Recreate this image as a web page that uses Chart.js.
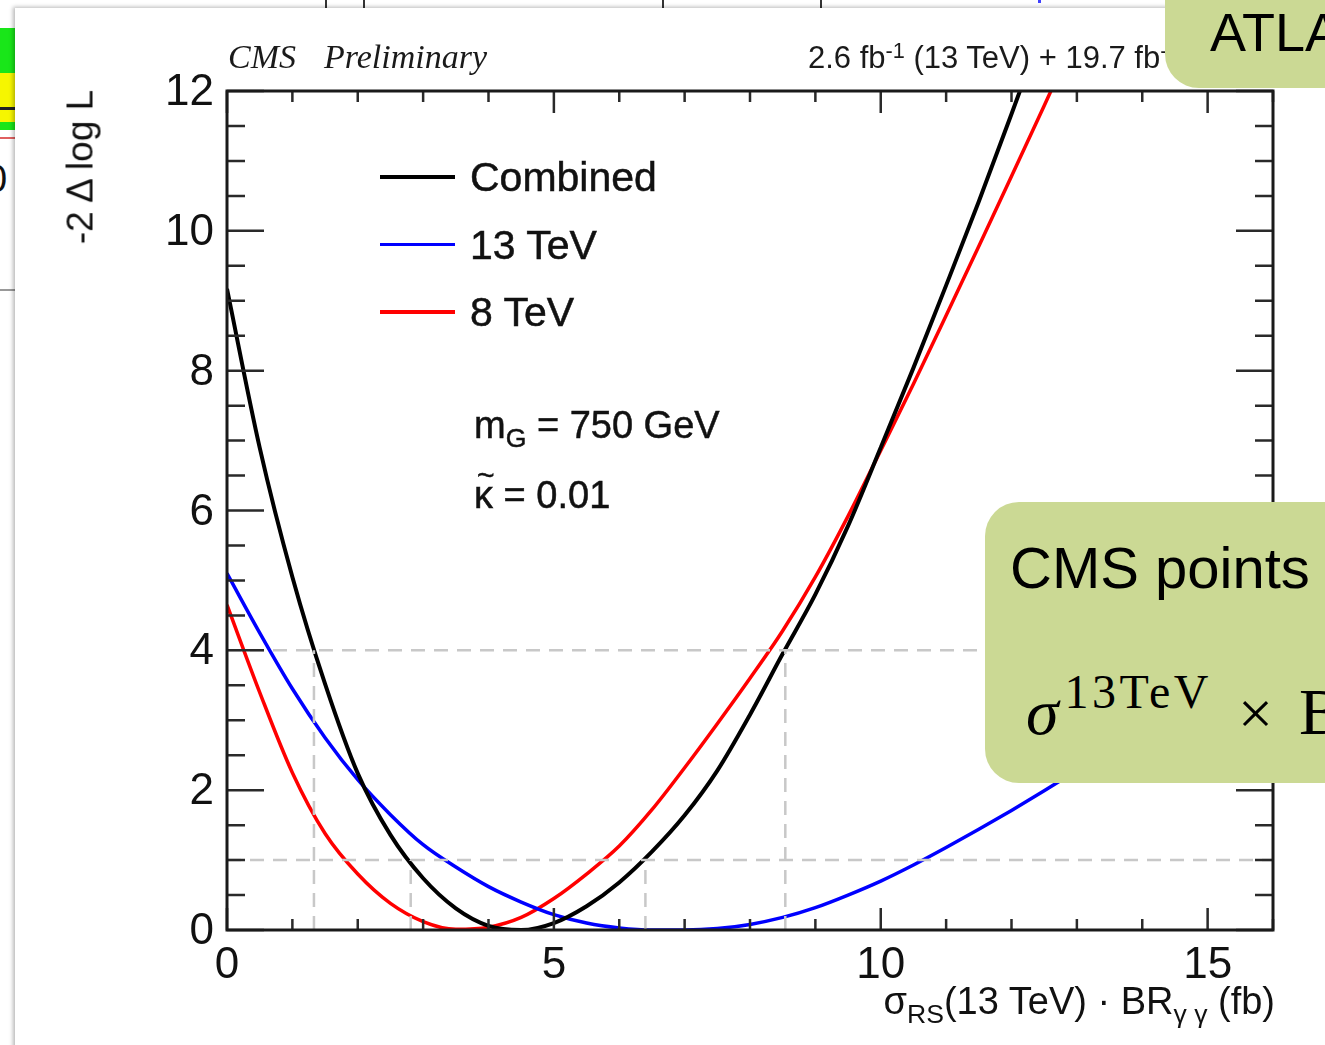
<!DOCTYPE html>
<html>
<head>
<meta charset="utf-8">
<script src="https://cdn.jsdelivr.net/npm/chart.js@4.4.1/dist/chart.umd.min.js"></script>
<style>
  html, body { margin: 0; padding: 0; width: 1325px; height: 1045px; overflow: hidden; background: #fff; }
  #wrap { position: relative; width: 1325px; height: 1045px; overflow: hidden; font-family: "Liberation Sans", Arial, sans-serif; color: #111; }
  .abs { position: absolute; white-space: nowrap; line-height: 1; }
  #panel { position: absolute; left: 15px; top: 8px; width: 1400px; height: 1100px; background: #fff; box-shadow: -2px -1px 4px rgba(0,0,0,0.28); z-index: 1; }
  #plot { position: absolute; left: 0; top: 0; z-index: 2; }
  .lbl { z-index: 3; }
  .heavy { -webkit-text-stroke: 0.5px #111; }
  .note { z-index: 5; background: #cbd994; border-radius: 34px; position: absolute; }
  sub { font-size: 70%; vertical-align: -0.35em; }
  .serif { font-family: "Liberation Serif", "Times New Roman", serif; }
</style>
</head>
<body>
<div id="wrap">
  <!-- neighbouring slide content peeking out on the left and top -->
  <div class="abs" style="left:0;top:28px;width:15px;height:45px;background:#19e619;"></div>
  <div class="abs" style="left:0;top:73px;width:15px;height:49px;background:#f6f600;"></div>
  <div class="abs" style="left:0;top:122px;width:15px;height:8px;background:#19e619;"></div>
  <div class="abs" style="left:0;top:107px;width:15px;height:3px;background:#222;"></div>
  <div class="abs" style="left:0;top:137px;width:15px;height:2px;background:#e06060;"></div>
  <div class="abs" style="left:-14px;top:160px;font-size:38px;">0</div>
  <div class="abs" style="left:0;top:289px;width:15px;height:2px;background:#999;"></div>
  <div class="abs" style="left:325px;top:0;width:2px;height:8px;background:#333;"></div>
  <div class="abs" style="left:363px;top:0;width:2px;height:8px;background:#333;"></div>
  <div class="abs" style="left:662px;top:0;width:2px;height:8px;background:#333;"></div>
  <div class="abs" style="left:820px;top:0;width:2px;height:8px;background:#333;"></div>
  <div class="abs" style="left:1038px;top:0;width:3px;height:3px;background:#4040ff;"></div>

  <div id="panel"></div>
  <canvas id="plot" width="1325" height="1045"></canvas>

  <div class="abs lbl serif" style="left:228px;top:40px;font-size:34px;font-style:italic;color:#1a1a1a;">CMS</div>
  <div class="abs lbl serif" style="left:324px;top:40px;font-size:34px;font-style:italic;color:#1a1a1a;">Preliminary</div>
  <div class="abs lbl" style="left:808px;top:40px;font-size:31px;color:#1a1a1a;">2.6 fb<sup style="font-size:70%;vertical-align:0.45em;">-1</sup> (13 TeV) + 19.7 fb<sup style="font-size:70%;vertical-align:0.45em;">-1</sup> (8 TeV)</div>

  <div class="abs lbl" id="ytitle" style="left:80px;top:167px;font-size:37px;transform:translate(-50%,-50%) rotate(-90deg);">-2 &Delta; log L</div>
  <div class="abs lbl" style="right:50px;top:982px;font-size:38px;">&sigma;<sub>RS</sub>(13 TeV) &middot; BR<sub>&gamma; &gamma;</sub> (fb)</div>

  <div id="legend"></div>
  <div class="abs lbl heavy" style="left:474px;top:406px;font-size:38px;">m<sub>G</sub> = 750 GeV</div>
  <div class="abs lbl heavy" style="left:474px;top:476px;font-size:38px;"><span style="position:relative;">&kappa;<span style="position:absolute;left:3px;top:-14px;font-size:30px;">~</span></span> = 0.01</div>

  <div class="note" style="left:1165px;top:-60px;width:300px;height:148px;">
    <div class="abs" style="left:45px;top:65px;font-size:54px;color:#000;">ATLAS</div>
  </div>
  <div class="note" style="left:985px;top:502px;width:420px;height:281px;">
    <div class="abs" style="left:25px;top:37px;font-size:58px;color:#000;">CMS points</div>
    <div class="abs serif" style="left:41px;top:166px;font-size:66px;color:#000;"><i>&sigma;</i><span style="font-size:48px;vertical-align:26px;margin-left:6px;letter-spacing:3.5px;">13TeV</span><span style="margin-left:26px;font-size:62px;">&times;</span><span style="margin-left:26px;">B</span></div>
  </div>
</div>

<script>
// likelihood scan: -2 delta log L versus sigma x BR (fb)
const xs = [0, 0.5, 1, 1.5, 2, 2.5, 3, 3.5, 4, 4.5, 5, 5.5, 6, 6.5, 7, 7.5, 8,
            8.5, 9, 9.5, 10, 10.5, 11, 11.5, 12, 12.5, 13, 13.5, 14, 14.5, 15, 15.5, 16];
const combined = [9.17, 6.9, 5.05, 3.52, 2.24, 1.36, 0.74, 0.31, 0.06, 0.0, 0.1, 0.34, 0.68,
                  1.12, 1.64, 2.28, 3.08, 3.95, 4.8, 5.78, 6.9, 8.04, 9.22, 10.42, 11.67, 12.95];
const tev13 = [5.1, 4.25, 3.45, 2.75, 2.15, 1.65, 1.22, 0.9, 0.62, 0.4, 0.22, 0.1, 0.03,
               0.0, 0.0, 0.02, 0.08, 0.18, 0.32, 0.5, 0.7, 0.93, 1.18, 1.44, 1.71, 1.99,
               2.28, 2.58, 2.9, 3.23, 3.57, 3.92, 4.28];
const tev8 = [4.65, 3.4, 2.25, 1.38, 0.8, 0.38, 0.12, 0.01, 0.04, 0.18, 0.45, 0.8, 1.2,
              1.72, 2.32, 2.95, 3.6, 4.28, 5.05, 5.92, 6.86, 7.81, 8.79, 9.78, 10.78, 11.79, 12.81];

// 1 and 2 sigma levels and where the combined curve crosses them
const levels = [1, 4];
const crossings = [[2.81, 6.40], [1.33, 8.54]];

const xTicks = [0, 5, 10, 15];
const yTicks = [0, 2, 4, 6, 8, 10, 12];
const xRange = [0, 16];
const yRange = [0, 12];
const xMinor = 1;
const yMinor = 0.5;

function pts(arr) {
  return arr.map((v, i) => ({x: xs[i], y: v}));
}

let datasets = [];
let dash = {borderColor: '#c8c8c8', borderWidth: 2.5, borderDash: [14, 9], pointRadius: 0, order: 0, clip: 0};
levels.forEach((lv, k) => {
  datasets.push(Object.assign({data: [{x: xRange[0], y: lv}, {x: xRange[1], y: lv}]}, dash));
  crossings[k].forEach(c => {
    datasets.push(Object.assign({data: [{x: c, y: 0}, {x: c, y: lv}]}, dash));
  });
});
datasets.push({label: 'Combined', data: pts(combined), borderColor: '#000', borderWidth: 4, order: 1});
datasets.push({label: '13 TeV', data: pts(tev13), borderColor: '#0000ff', borderWidth: 3.5, order: 2});
datasets.push({label: '8 TeV', data: pts(tev8), borderColor: '#ff0000', borderWidth: 3.5, order: 3});
datasets.forEach(d => {
  d.pointRadius = 0;
  d.fill = false;
  if (d.label) { d.cubicInterpolationMode = 'monotone'; d.clip = 0; }
});

// ROOT-like frame with ticks on the inside of all four sides
const rootFrame = {
  id: 'rootFrame',
  afterDraw(chart) {
    const {ctx, chartArea: a} = chart;
    const x = chart.scales.x, y = chart.scales.y;
    ctx.save();
    ctx.strokeStyle = '#2a2a2a';
    ctx.lineWidth = 2.5;
    ctx.beginPath();
    for (let v = xRange[0]; v <= xRange[1]; v += xMinor) {
      const px = x.getPixelForValue(v);
      const len = xTicks.includes(v) ? 22 : 11;
      ctx.moveTo(px, a.bottom); ctx.lineTo(px, a.bottom - len);
      ctx.moveTo(px, a.top); ctx.lineTo(px, a.top + len);
    }
    for (let v = yRange[0]; v <= yRange[1]; v += yMinor) {
      const py = y.getPixelForValue(v);
      const len = yTicks.includes(v) ? 37 : 18;
      ctx.moveTo(a.left, py); ctx.lineTo(a.left + len, py);
      ctx.moveTo(a.right, py); ctx.lineTo(a.right - len, py);
    }
    ctx.stroke();
    ctx.lineWidth = 3;
    ctx.strokeStyle = '#1a1a1a';
    ctx.strokeRect(a.left, a.top, a.right - a.left, a.bottom - a.top);
    ctx.restore();
  }
};

const tickFont = {family: '"Liberation Sans", Arial, sans-serif', size: 44};

const chart = new Chart(document.getElementById('plot'), {
  type: 'line',
  data: {datasets: datasets},
  options: {
    responsive: false,
    animation: false,
    layout: {padding: {left: 107, top: 91, right: 52, bottom: 0}},
    plugins: {legend: {display: false}, tooltip: {enabled: false}},
    scales: {
      x: {
        type: 'linear', min: xRange[0], max: xRange[1],
        grid: {display: false, drawTicks: false},
        border: {display: false},
        afterBuildTicks: s => { s.ticks = xTicks.map(v => ({value: v})); },
        afterFit: s => { s.height = 115; },
        ticks: {font: tickFont, color: '#111', padding: 9, maxRotation: 0}
      },
      y: {
        type: 'linear', min: yRange[0], max: yRange[1],
        grid: {display: false, drawTicks: false},
        border: {display: false},
        afterBuildTicks: s => { s.ticks = yTicks.map(v => ({value: v})); },
        afterFit: s => { s.width = 120; },
        ticks: {font: tickFont, color: '#111', padding: 13, labelOffset: 2}
      }
    }
  },
  plugins: [rootFrame]
});

// legend built from the curve datasets
const legendBox = document.getElementById('legend');
chart.data.datasets.filter(d => d.label).forEach((d, i) => {
  const cy = 177 + i * 67.5;
  const line = document.createElement('div');
  line.className = 'abs lbl';
  line.style.cssText = 'left:380px;width:75px;top:' + (cy - d.borderWidth / 2) + 'px;height:' + d.borderWidth + 'px;background:' + d.borderColor + ';';
  const txt = document.createElement('div');
  txt.className = 'abs lbl heavy';
  txt.style.cssText = 'left:470px;top:' + (cy - 20) + 'px;font-size:41px;';
  txt.textContent = d.label;
  legendBox.appendChild(line);
  legendBox.appendChild(txt);
});
</script>
</body>
</html>
